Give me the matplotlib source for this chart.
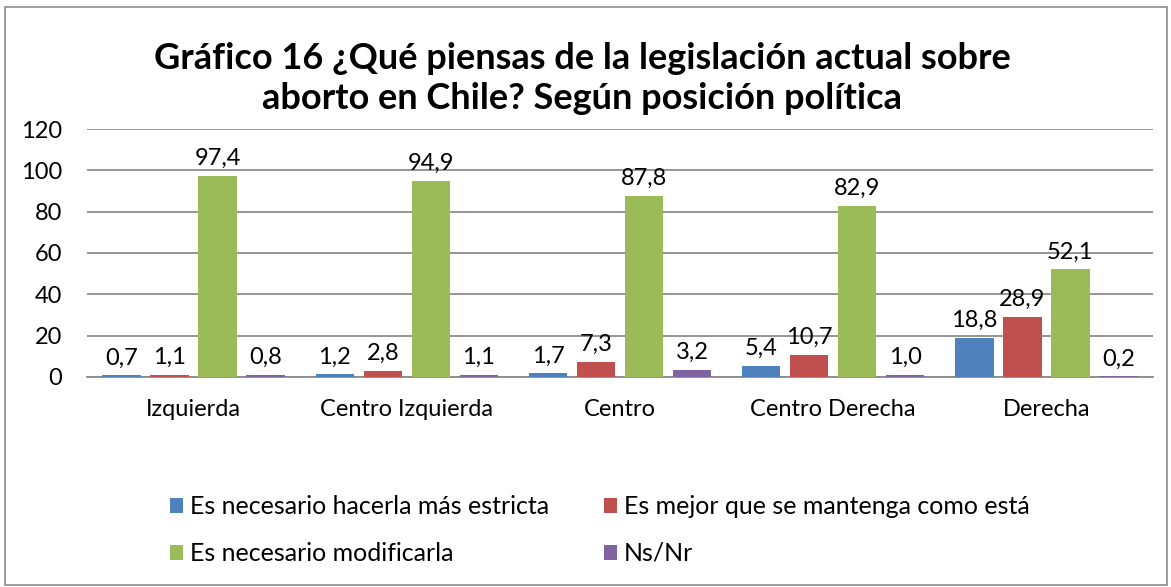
import matplotlib.pyplot as plt
import numpy as np
from matplotlib.patches import Rectangle

categories = ['Izquierda', 'Centro Izquierda', 'Centro', 'Centro Derecha', 'Derecha']
series_names = ['Es necesario hacerla más estricta', 'Es mejor que se mantenga como está',
                'Es necesario modificarla', 'Ns/Nr']
mas_estricta = [0.7, 1.2, 1.7, 5.4, 18.8]
mantenga = [1.1, 2.8, 7.3, 10.7, 28.9]
modificarla = [97.4, 94.9, 87.8, 82.9, 52.1]
nsnr = [0.8, 1.1, 3.2, 1.0, 0.2]
colors = ['#4F81BD', '#C0504D', '#9BBB59', '#8064A2']

plt.rcParams['font.family'] = ['Lato', 'DejaVu Sans']
fs = 17

fig = plt.figure(figsize=(11.71, 5.87), dpi=100)
ax = fig.add_axes([0.0743, 0.358, 0.9103, 0.422])

ind = np.arange(len(categories))
width = 0.18
step = 0.225
all_series = [mas_estricta, mantenga, modificarla, nsnr]
handles = []
for i, vals in enumerate(all_series):
    pos = ind + (i - 1.5) * step
    bars = ax.bar(pos, vals, width, color=colors[i], label=series_names[i], zorder=3)
    handles.append(bars)
    for x, v in zip(pos, vals):
        ax.annotate(f'{v:.1f}'.replace('.', ','), (x, v), xytext=(0, 5),
                    textcoords='offset points', ha='center', va='bottom', fontsize=fs)

ax.set_xlim(-0.5, len(categories) - 0.5)
ax.set_ylim(0, 120)
ax.set_yticks(range(0, 121, 20))
ax.set_xticks(ind)
ax.set_xticklabels(categories)
ax.tick_params(axis='both', length=0, labelsize=fs)
ax.tick_params(axis='x', pad=16)
ax.tick_params(axis='y', pad=18)
ax.grid(axis='y', color='#8c8c8c', linewidth=1.3, zorder=0)
for s in ['top', 'right', 'left']:
    ax.spines[s].set_visible(False)
ax.spines['bottom'].set_color('#8c8c8c')
ax.spines['bottom'].set_linewidth(1.3)

fig.text(0.497, 0.866, 'Gráfico 16 ¿Qué piensas de la legislación actual sobre\naborto en Chile? Según posición política',
         ha='center', va='center', fontsize=26, fontweight='bold', linespacing=1.25)

order = [0, 2, 1, 3]
fig.legend([handles[i] for i in order], [series_names[i] for i in order],
           loc='center', bbox_to_anchor=(0.512, 0.097),
           ncol=2, frameon=False, fontsize=18, handlelength=0.55, handleheight=0.55,
           handletextpad=0.25, columnspacing=2.2, labelspacing=0.95)

fig.patches.append(Rectangle((0.004, 0.003), 0.993, 0.985, transform=fig.transFigure,
                             fill=False, edgecolor='#8c8c8c', linewidth=1.2))

fig.savefig('out.png', dpi=100)
